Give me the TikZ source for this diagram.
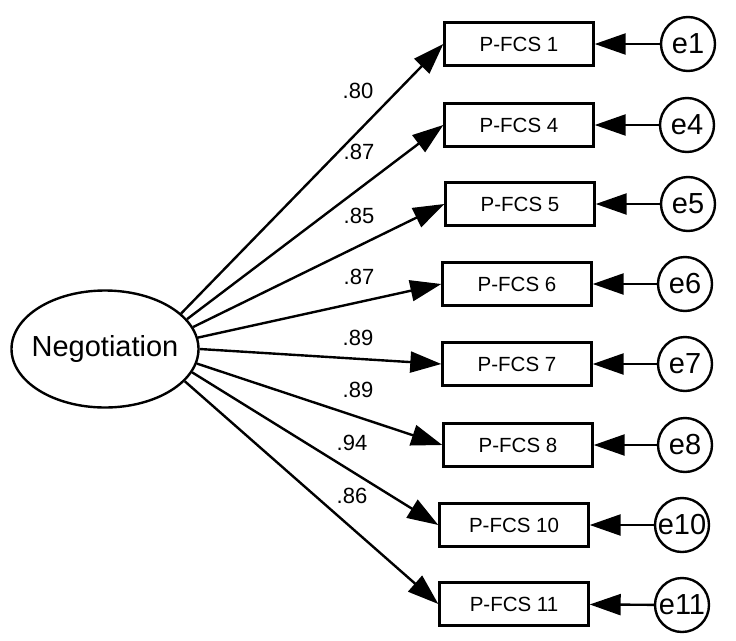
\documentclass[tikz,border=0pt]{standalone}
\usepackage{fontspec}
\setmainfont{Liberation Sans}
\usetikzlibrary{shapes.geometric,arrows.meta}
\begin{document}
\begin{tikzpicture}[x=1pt,y=-1pt,
  obs/.style={draw,line width=2.4pt,minimum width=149pt,minimum height=43pt,inner sep=0pt,font=\fontsize{20.5}{24}\selectfont},
  err/.style={draw,circle,line width=2.4pt,minimum size=54pt,inner sep=0pt,font=\fontsize{29}{32}\selectfont},
  lat/.style={draw,ellipse,line width=2.4pt,minimum width=187pt,minimum height=117pt,inner xsep=-12pt,inner ysep=0pt,font=\fontsize{29}{32}\selectfont},
  link/.style={line width=2.4pt,-{Triangle[length=31pt,width=21pt]}},
  coef/.style={inner sep=0pt,font=\fontsize{22}{26}\selectfont}
]
\useasboundingbox (0,0) rectangle (736,640);
\fill[white] (0,0) rectangle (736,640);

\node[lat] (neg) at (105,349) {Negotiation};

\node[obs] (v1) at (519,44) {P-FCS 1};
\node[obs] (v4) at (519,125) {P-FCS 4};
\node[obs] (v5) at (520,204) {P-FCS 5};
\node[obs] (v6) at (517,284) {P-FCS 6};
\node[obs] (v7) at (517,364) {P-FCS 7};
\node[obs] (v8) at (518,445) {P-FCS 8};
\node[obs] (v10) at (514,525) {P-FCS 10};
\node[obs] (v11) at (514,604) {P-FCS 11};

\node[err] (e1) at (688,44) {e1};
\node[err] (e4) at (687,125) {e4};
\node[err] (e5) at (688,204) {e5};
\node[err] (e6) at (685,284) {e6};
\node[err] (e7) at (685,364) {e7};
\node[err] (e8) at (685,445) {e8};
\node[err] (e10) at (682,525) {e10};
\node[err] (e11) at (682,605) {e11};

\draw[link] (e1) -- (v1);
\draw[link] (e4) -- (v4);
\draw[link] (e5) -- (v5);
\draw[link] (e6) -- (v6);
\draw[link] (e7) -- (v7);
\draw[link] (e8) -- (v8);
\draw[link] (e10) -- (v10);
\draw[link] (e11) -- (v11);

\draw[link] (neg.25.7) -- (v1.west);
\draw[link] (neg.20.3) -- (v4.west);
\draw[link] (neg.14.2) -- (v5.west);
\draw[link] (neg.7.4) -- (v6.west);
\draw[link] (neg.0) -- (v7.west);
\draw[link] (neg.-9.7) -- (v8.west);
\draw[link] (neg.-15) -- (v10.west);
\draw[link] (neg.-22.5) -- (v11.west);

\node[coef] (c1) at (358,91) {.80};
\node[coef] (c4) at (359,152) {.87};
\node[coef] (c5) at (359,216) {.85};
\node[coef] (c6) at (359,277) {.87};
\node[coef] (c7) at (358,338) {.89};
\node[coef] (c8) at (358,390) {.89};
\node[coef] (c10) at (352,443) {.94};
\node[coef] (c11) at (352,496) {.86};
\end{tikzpicture}
\end{document}
